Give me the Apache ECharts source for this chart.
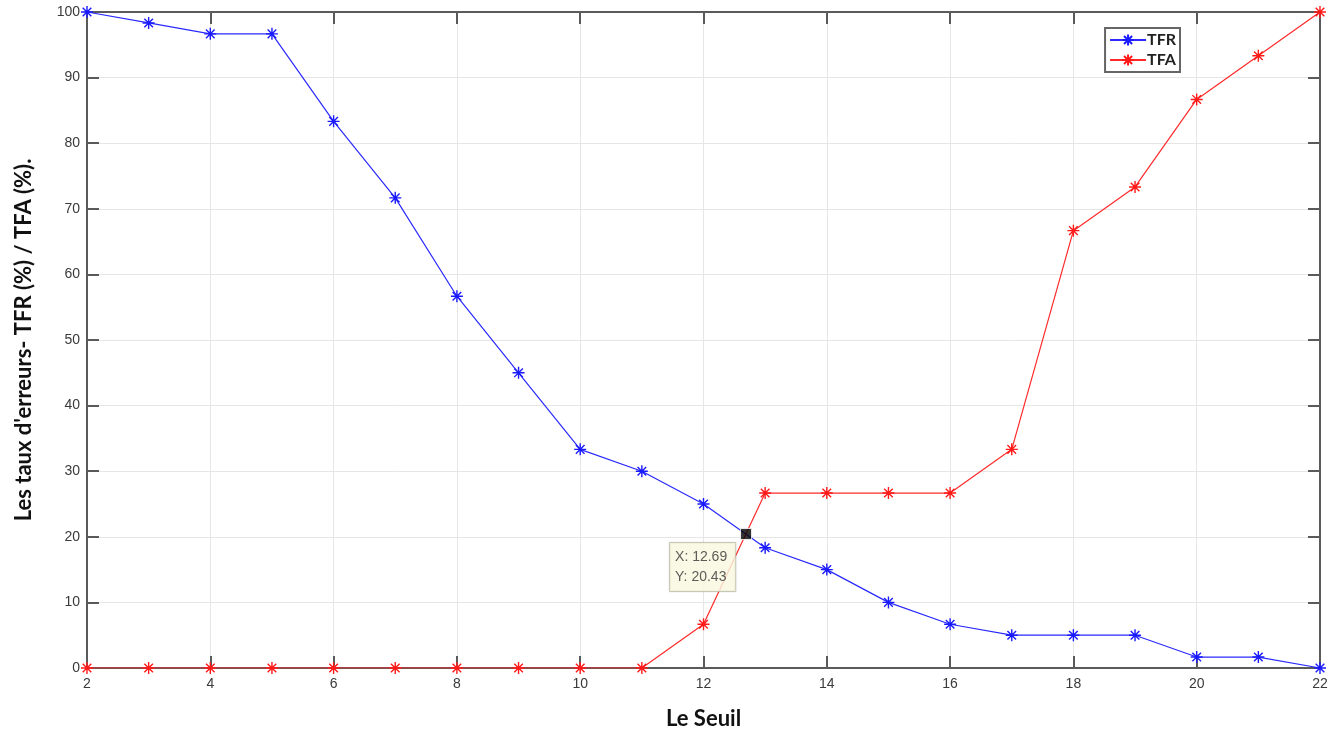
<!DOCTYPE html>
<html>
<head>
<meta charset="utf-8">
<script src="https://cdn.jsdelivr.net/npm/echarts@6/dist/echarts.min.js"></script>
<style>
  html, body { margin: 0; padding: 0; background: #fff; }
  #chart { width: 1340px; height: 735px; }
</style>
</head>
<body>
<div id="chart"></div>
<script>
// seuils et taux d'erreurs (%)
const seuils = [2, 3, 4, 5, 6, 7, 8, 9, 10, 11, 12, 13, 14, 15, 16, 17, 18, 19, 20, 21, 22];
const tfr = [100, 98.33, 96.67, 96.67, 83.33, 71.67, 56.67, 45, 33.33, 30, 25, 18.33, 15, 10, 6.67, 5, 5, 5, 1.67, 1.67, 0];
const tfa = [0, 0, 0, 0, 0, 0, 0, 0, 0, 0, 6.67, 26.67, 26.67, 26.67, 26.67, 33.33, 66.67, 73.33, 86.67, 93.33, 100];
const pointEER = [12.69, 20.43];

const etoile = 'path://M0 -5 L0 5 M-5 0 L5 0 M-3.6 -3.6 L3.6 3.6 M-3.6 3.6 L3.6 -3.6';

const chart = echarts.init(document.getElementById('chart'));

const axisCommun = {
    axisLine: { show: true, onZero: false, lineStyle: { color: '#5a5a5a', width: 2 } },
    axisTick: { show: true, inside: true, length: 12, lineStyle: { color: '#5a5a5a', width: 2 } },
    axisLabel: { color: '#3a3a3a', fontSize: 14, fontFamily: 'Liberation Sans' }
};
const titreStyle = { fontSize: 22, fontWeight: 'bold', color: '#111', fontFamily: 'Lato' };

const option = {
    animation: false,
    grid: { left: 87, right: 20, top: 12, bottom: 67, show: true, borderColor: '#5a5a5a', borderWidth: 2 },
    legend: {
        right: 160,
        top: 28,
        orient: 'vertical',
        itemGap: 4,
        itemWidth: 36,
        itemHeight: 14,
        padding: [4, 4, 4, 4],
        borderColor: '#666',
        borderWidth: 2,
        backgroundColor: '#fff',
        textStyle: { fontSize: 16, fontWeight: 'bold', color: '#222', fontFamily: 'Lato', padding: [0, 0, 0, -4] },
        data: ['TFR', 'TFA']
    },
    xAxis: [
        Object.assign({}, axisCommun, {
            type: 'value', min: 2, max: 22, interval: 2,
            name: 'Le Seuil', nameLocation: 'middle', nameGap: 40,
            nameTextStyle: titreStyle,
            axisLabel: Object.assign({}, axisCommun.axisLabel, { margin: 9 }),
            splitLine: { show: true, lineStyle: { color: '#e6e6e6' } }
        }),
        Object.assign({}, axisCommun, {
            type: 'value', min: 2, max: 22, interval: 2, position: 'top',
            axisLabel: { show: false }, splitLine: { show: false }
        })
    ],
    yAxis: [
        Object.assign({}, axisCommun, {
            type: 'value', min: 0, max: 100, interval: 10,
            name: "Les taux d'erreurs- TFR (%) / TFA (%).", nameLocation: 'middle', nameGap: 52,
            nameTextStyle: titreStyle,
            axisLabel: Object.assign({}, axisCommun.axisLabel, { margin: 7 }),
            splitLine: { show: true, lineStyle: { color: '#e6e6e6' } }
        }),
        Object.assign({}, axisCommun, {
            type: 'value', min: 0, max: 100, interval: 10, position: 'right',
            axisLabel: { show: false }, splitLine: { show: false }
        })
    ],
    series: [
        {
            name: 'TFR',
            type: 'line',
            data: seuils.map((s, i) => [s, tfr[i]]),
            symbol: etoile,
            symbolSize: 12,
            color: '#1a1aff',
            lineStyle: { color: '#2a2aff', width: 1.2 },
            itemStyle: { color: 'transparent', borderColor: '#1a1aff', borderWidth: 1.4 }
        },
        {
            name: 'TFA',
            type: 'line',
            data: seuils.map((s, i) => [s, tfa[i]]),
            symbol: etoile,
            symbolSize: 12,
            color: '#ff1a1a',
            lineStyle: { color: '#ff2a2a', width: 1.2 },
            itemStyle: { color: 'transparent', borderColor: '#ff1a1a', borderWidth: 1.4 }
        },
        {
            name: 'datatip',
            type: 'scatter',
            data: [pointEER],
            symbol: 'rect',
            symbolSize: 11,
            itemStyle: { color: '#000', borderColor: '#fff', borderWidth: 1 },
            z: 10,
            label: {
                show: true,
                position: [-70, 15],
                align: 'left',
                verticalAlign: 'top',
                formatter: (p) => 'X: ' + p.value[0] + '\nY: ' + p.value[1],
                backgroundColor: '#ffffe6',
                borderColor: '#c8c8b4',
                borderWidth: 1,
                padding: [4, 8, 4, 5],
                lineHeight: 20,
                fontSize: 14,
                color: '#333',
                fontFamily: 'Liberation Sans',
                shadowColor: 'rgba(0,0,0,0.15)',
                shadowBlur: 2
            }
        }
    ]
};

chart.setOption(option);
</script>
</body>
</html>
